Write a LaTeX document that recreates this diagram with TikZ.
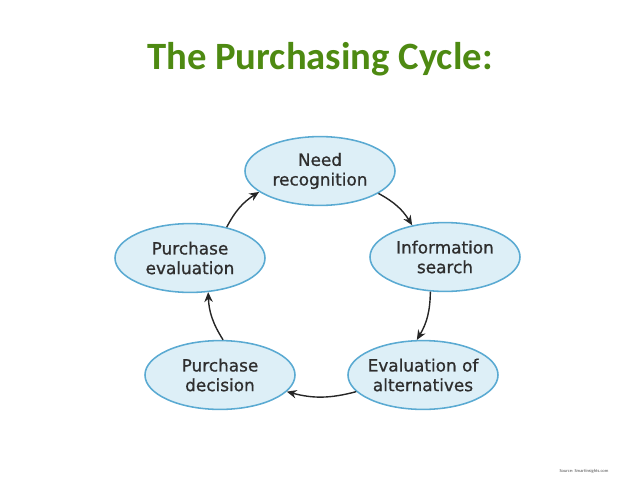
\documentclass[tikz,border=0pt]{standalone}
\usepackage{fontspec}
\setmainfont{Carlito}
\newfontfamily\stagefont[FakeBold=0.9]{DejaVu Sans}
\usetikzlibrary{shapes.geometric,arrows.meta}
\definecolor{titlegreen}{HTML}{4E8A12}
\definecolor{stagefill}{HTML}{DDEFF7}
\definecolor{stageline}{HTML}{5AAAD2}
\definecolor{stagetext}{HTML}{2E2E2E}
\tikzset{
  stage/.style={ellipse, draw=stageline, line width=1.1pt, fill=stagefill,
    inner sep=0pt, inner xsep=-12pt, minimum width=3.75cm, minimum height=1.72cm,
    align=center, text=stagetext, font=\stagefont\fontsize{12}{14}\selectfont},
  cyclearrow/.style={-{Stealth[length=7pt,width=6pt]}, line width=1pt, black!85, bend left=15}
}
\begin{document}
\begin{tikzpicture}[x=0.025cm,y=-0.025cm]
      \useasboundingbox (0,0) rectangle (638,479);
      \node [anchor=base, text=titlegreen, font=\bfseries\fontsize{27.5}{32}\selectfont] (title) at (320,70) {The Purchasing Cycle:};
      \node [stage] (need) at (320,171) {Need\\recognition};
      \node [stage] (info) at (445,257) {Information\\search};
      \node [stage] (evalalt) at (423,375) {Evaluation of\\alternatives};
      \node [stage] (decision) at (220,375) {Purchase\\decision};
      \node [stage] (posteval) at (190,258) {Purchase\\evaluation};
      \draw [cyclearrow] (need.-21) to (info.136);
      \draw [cyclearrow] (info.-113) to (evalalt.100);
      \draw [cyclearrow] (evalalt.194) to (decision.-14);
      \draw [cyclearrow] (decision.85) to (posteval.-62);
      \draw [cyclearrow] (posteval.40) to (need.199);
      \node [anchor=base, text=black!70, font=\fontsize{3.2}{4}\selectfont] (source) at (584,472) {Source: Smartinsights.com};
    \end{tikzpicture}
\end{document}
